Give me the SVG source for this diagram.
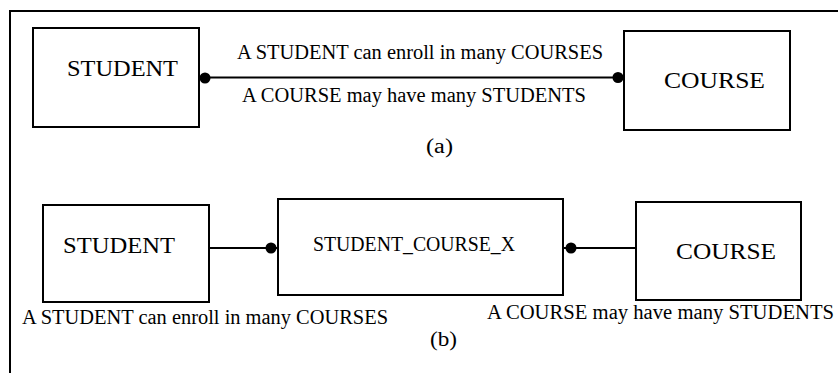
<svg xmlns="http://www.w3.org/2000/svg" width="838" height="373" viewBox="0 0 838 373">
<style>
.box{fill:#fff;stroke:#000;stroke-width:2}
.ln{stroke:#000;stroke-width:2;fill:none}
.dot{fill:#000}
text{font-family:"Liberation Serif","Times New Roman",serif;fill:#000}
.big{font-size:24px}
.mid{font-size:20px}
.lbl{font-size:20px}
</style>
<rect width="838" height="373" fill="#fff"/>
<g id="frame"><path class="ln" d="M10,373 V11 H838"/></g>
<g id="connectors">
<line class="ln" x1="199" y1="77.5" x2="624" y2="77.5"/>
<circle class="dot" cx="205" cy="78" r="5.5"/>
<circle class="dot" cx="618" cy="77.5" r="5.5"/>
<line class="ln" x1="209" y1="248" x2="278" y2="248"/>
<circle class="dot" cx="271" cy="248" r="5.5"/>
<line class="ln" x1="563" y1="248" x2="636" y2="248"/>
<circle class="dot" cx="571" cy="248" r="5.5"/>
</g>
<g id="student_a"><rect class="box" x="33" y="28" width="166" height="99"/><text class="big" x="67" y="76" textLength="111" lengthAdjust="spacingAndGlyphs">STUDENT</text></g>
<g id="course_a"><rect class="box" x="624" y="31" width="166" height="99"/><text class="big" x="664" y="88" textLength="101" lengthAdjust="spacingAndGlyphs">COURSE</text></g>
<g id="labels_a">
<text class="lbl" x="237" y="59" textLength="366" lengthAdjust="spacingAndGlyphs">A STUDENT can enroll in many COURSES</text>
<text class="lbl" x="242" y="102" textLength="344" lengthAdjust="spacingAndGlyphs">A COURSE may have many STUDENTS</text>
<text class="lbl" x="426" y="153" textLength="27" lengthAdjust="spacingAndGlyphs">(a)</text>
</g>
<g id="student_b"><rect class="box" x="43" y="205" width="166" height="97"/><text class="big" x="63" y="253" textLength="112" lengthAdjust="spacingAndGlyphs">STUDENT</text></g>
<g id="student_course_x"><rect class="box" x="278" y="199" width="285" height="96"/><text class="mid" x="313" y="251" textLength="202" lengthAdjust="spacingAndGlyphs">STUDENT_COURSE_X</text></g>
<g id="course_b"><rect class="box" x="636" y="202" width="165" height="98"/><text class="big" x="676" y="259" textLength="100" lengthAdjust="spacingAndGlyphs">COURSE</text></g>
<g id="labels_b">
<text class="lbl" x="22" y="324" textLength="366" lengthAdjust="spacingAndGlyphs">A STUDENT can enroll in many COURSES</text>
<text class="lbl" x="487" y="319" textLength="347" lengthAdjust="spacingAndGlyphs">A COURSE may have many STUDENTS</text>
<text class="lbl" x="430" y="346" textLength="27" lengthAdjust="spacingAndGlyphs">(b)</text>
</g>
</svg>
